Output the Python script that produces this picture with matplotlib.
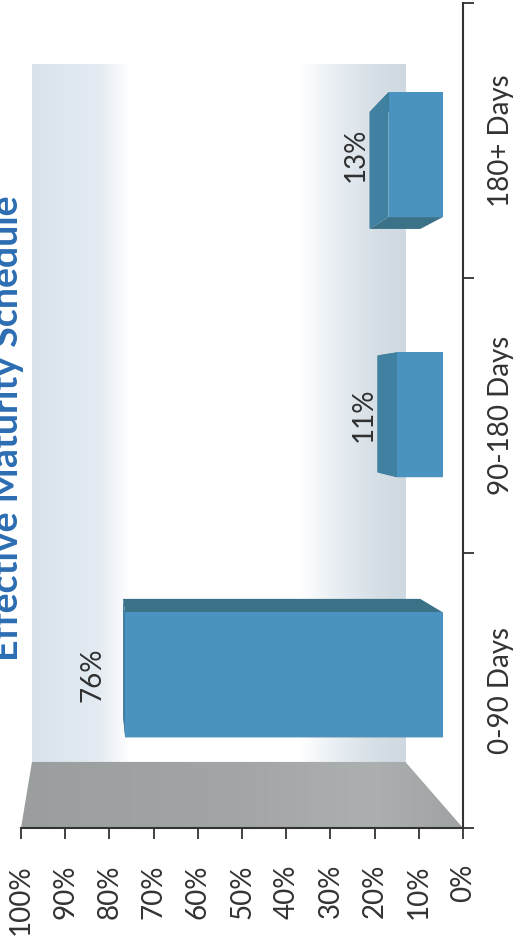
import matplotlib
matplotlib.use("Agg")
import matplotlib.pyplot as plt
import numpy as np
from matplotlib.colors import LinearSegmentedColormap
from matplotlib.patches import Polygon

plt.rcParams['font.family'] = ['Lato', 'DejaVu Sans']

# maturity buckets and share of portfolio (%)
categories = ["0-90 Days", "90-180 Days", "180+ Days"]
shares = [76, 11, 13]
value_ticks = list(range(0, 101, 10))
value_tick_labels = [f"{t}%" for t in value_ticks]
title = "Effective Maturity Schedule"

# 3D look: everything is shrunk toward a vanishing point with depth
VP = (84.0, 1.55)
S_BAR_FRONT = 0.946
S_BAR_BACK = 0.885
S_WALL = 0.845
HALF = 0.24


def proj(v, c, s):
    return (VP[0] + s * (v - VP[0]), VP[1] + s * (c - VP[1]))


fig = plt.figure(figsize=(5.14, 9.43), dpi=100)
ax = fig.add_axes([21 / 514, 1 - 828 / 943, 442 / 514, 825 / 943])
ax.set_xlim(100, 0)
ax.set_ylim(0, 3)

# back wall with soft gradient
wall_cmap = LinearSegmentedColormap.from_list("wall", [
    (0.0, "#d9e3ec"), (0.18, "#e4ebf2"), (0.26, "#ffffff"), (0.72, "#ffffff"),
    (0.82, "#e7edf2"), (0.92, "#d6dfe6"), (1.0, "#cfd9e1")])
wl, wb = proj(100, 0, S_WALL)
wr, wt = proj(0, 3, S_WALL)
grad = np.linspace(0, 1, 256).reshape(1, -1)
ax.imshow(grad, cmap=wall_cmap, extent=(wl, wr, wb, wt), aspect="auto",
          zorder=0, interpolation="bilinear")

# floor (grey plane between wall and axis)
floor_pts = [proj(100, 0, S_WALL), proj(0, 0, S_WALL), (0, 0), (100, 0)]
floor = Polygon(floor_pts, closed=True, facecolor="none", edgecolor="none")
ax.add_patch(floor)
floor_cmap = LinearSegmentedColormap.from_list("floor", [
    (0.0, "#9b9e9e"), (0.5, "#a3a6a6"), (0.8, "#adb0b0"), (1.0, "#9fa2a2")])
fimg = ax.imshow(grad, cmap=floor_cmap, extent=(100, 0, 0, wb), aspect="auto",
                 zorder=1, interpolation="bilinear")
fimg.set_clip_path(floor)

front_col = "#4a93c1"
end_col = "#4080a0"
side_col = "#3b7288"

for i, (cat, v) in enumerate(zip(categories, shares)):
    c = i + 0.5
    f = [proj(0, c - HALF, S_BAR_FRONT), proj(v, c - HALF, S_BAR_FRONT),
         proj(v, c + HALF, S_BAR_FRONT), proj(0, c + HALF, S_BAR_FRONT)]
    b = [proj(0, c - HALF, S_BAR_BACK), proj(v, c - HALF, S_BAR_BACK),
         proj(v, c + HALF, S_BAR_BACK), proj(0, c + HALF, S_BAR_BACK)]
    # lateral faces
    ax.add_patch(Polygon([f[0], f[1], b[1], b[0]], facecolor=side_col, zorder=3))
    ax.add_patch(Polygon([f[3], f[2], b[2], b[3]], facecolor=side_col, zorder=3))
    # end face at the value
    ax.add_patch(Polygon([f[1], f[2], b[2], b[1]], facecolor=end_col, zorder=3))
    ax.add_patch(Polygon(f, facecolor=front_col, zorder=4))
    lx, ly = proj(v, c, S_BAR_FRONT)
    ax.text(lx + 7.5, ly, f"{v}%", rotation=90, ha="center", va="center",
            fontsize=20, color="#303030", zorder=5)

# axes styling
for side in ["left", "top"]:
    ax.spines[side].set_visible(False)
for side in ["right", "bottom"]:
    ax.spines[side].set_color("#333333")
    ax.spines[side].set_linewidth(1.5)
    ax.spines[side].set_zorder(6)

ax.set_xticks(value_ticks)
ax.set_xticklabels(value_tick_labels, rotation=90, fontsize=20, color="#333333",
                   va="top", ha="center")
ax.tick_params(axis="x", direction="out", length=8, width=1.3, color="#333333", pad=18)

ax.yaxis.tick_right()
ax.set_yticks([0.5, 1.5, 2.5])
ax.set_yticklabels(categories, rotation=90, fontsize=20, color="#333333",
                   va="center", ha="left")
ax.set_yticks([0, 1, 2, 3], minor=True)
ax.tick_params(axis="y", which="major", length=0, pad=18)
ax.tick_params(axis="y", which="minor", direction="out", length=8, width=1.3,
               color="#333333")

fig.text(24 / 514, 1 - 428 / 943, title, rotation=90, ha="right", va="center",
         fontsize=27, fontweight="bold", color="#2c6db2")

fig.savefig("out.png", dpi=100)
